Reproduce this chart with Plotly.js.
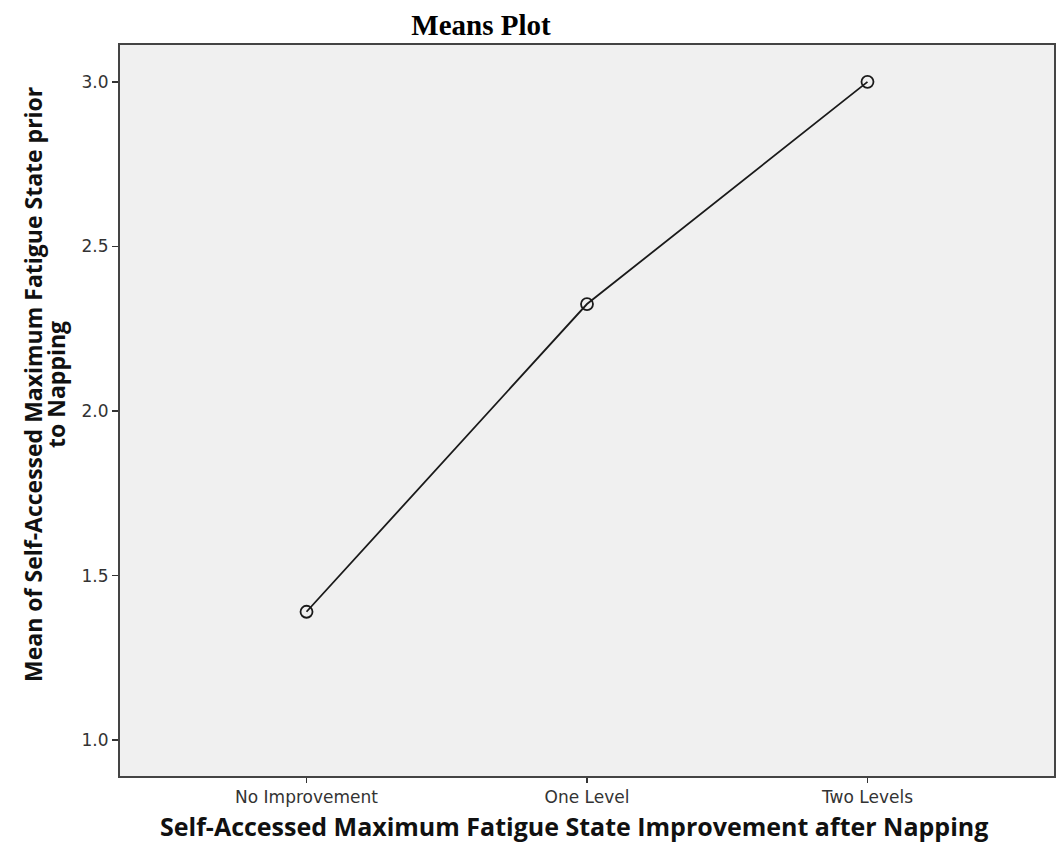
<!DOCTYPE html>
<html>
<head>
<meta charset="utf-8">
<script src="https://cdn.plot.ly/plotly-3.0.1.min.js"></script>
<style>body{margin:0;background:#fff;}#chart{width:1056px;height:856px;}</style>
</head>
<body>
<div id="chart"></div>
<script>
var categories = ["No Improvement", "One Level", "Two Levels"];
var means = [1.39, 2.325, 3.0];
var yTickVals = [1.0, 1.5, 2.0, 2.5, 3.0];
var yTickText = ["1.0", "1.5", "2.0", "2.5", "3.0"];
var xTitle = "Self-Accessed Maximum Fatigue State Improvement after Napping";
var yTitleLines = ["Mean of Self-Accessed Maximum Fatigue State prior", "to Napping"];

var trace = {
  x: [0, 1, 2],
  y: means,
  type: "scatter",
  mode: "lines+markers",
  line: {color: "#1a1a1a", width: 1.8},
  marker: {symbol: "circle-open", size: 12, color: "#1a1a1a", line: {width: 1.8, color: "#1a1a1a"}},
  hoverinfo: "x+y"
};

var titleFont = {family: "Open Sans, sans-serif", size: 23, color: "#111"};

var layout = {
  width: 1056, height: 856,
  margin: {l: 120, r: 2, t: 45, b: 80},
  paper_bgcolor: "#ffffff",
  plot_bgcolor: "#f0f0f0",
  showlegend: false,
  title: {
    text: "<b>Means Plot</b>",
    font: {family: "Liberation Serif, Times New Roman, serif", size: 29, color: "#000"},
    x: 0.4555, xanchor: "center", y: 0.971, yanchor: "middle"
  },
  xaxis: {
    range: [-0.665, 2.665],
    tickvals: [0, 1, 2],
    ticktext: categories,
    ticks: "outside", ticklen: 5, tickwidth: 1.5, tickcolor: "#333",
    showgrid: false, zeroline: false,
    showline: true, linecolor: "#444", linewidth: 2, mirror: true,
    tickfont: {family: "DejaVu Sans, sans-serif", size: 17, color: "#333"},
    fixedrange: true
  },
  yaxis: {
    range: [0.891, 3.112],
    tickvals: yTickVals,
    ticktext: yTickText,
    ticks: "outside", ticklen: 6, tickwidth: 1.5, tickcolor: "#333",
    showgrid: false, zeroline: false,
    showline: true, linecolor: "#444", linewidth: 2, mirror: true,
    tickfont: {family: "DejaVu Sans, sans-serif", size: 17, color: "#333"},
    fixedrange: true
  },
  annotations: [
    {text: "<b>" + xTitle + "</b>", xref: "paper", yref: "paper",
     x: (574 - 120) / 934, y: (776 - 826) / 731, xanchor: "center", yanchor: "middle",
     showarrow: false, font: {family: "Open Sans, sans-serif", size: 25, color: "#111"}},
    {text: "<b>" + yTitleLines[0] + "</b>", xref: "paper", yref: "paper",
     x: (33 - 120) / 934, y: 0.535, xanchor: "center", yanchor: "middle",
     textangle: -90, showarrow: false, font: titleFont},
    {text: "<b>" + yTitleLines[1] + "</b>", xref: "paper", yref: "paper",
     x: (56 - 120) / 934, y: 0.535, xanchor: "center", yanchor: "middle",
     textangle: -90, showarrow: false, font: titleFont}
  ]
};

Plotly.newPlot("chart", [trace], layout, {displayModeBar: false, staticPlot: true});
</script>
</body>
</html>
